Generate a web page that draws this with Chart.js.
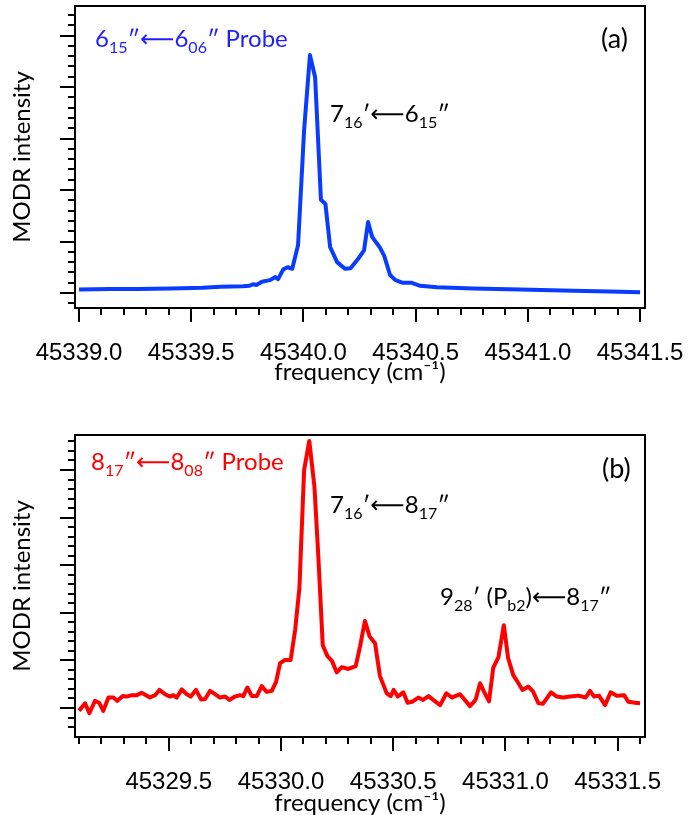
<!DOCTYPE html>
<html>
<head>
<meta charset="utf-8">
<script src="https://cdn.jsdelivr.net/npm/chart.js@4.4.1/dist/chart.umd.min.js"></script>
<style>
  html, body { margin: 0; padding: 0; background: #fff; }
  #wrap { position: relative; width: 688px; height: 815px; }
  #panel-a { position: absolute; left: 0; top: 0; }
  #panel-b { position: absolute; left: 0; top: 400px; }
</style>
</head>
<body>
<div id="wrap">
  <canvas id="panel-a" width="688" height="400"></canvas>
  <canvas id="panel-b" width="688" height="415"></canvas>
</div>
<script>
// Panel (a): 6_15" <- 6_06" probe
const freqA = [
  45339.00, 45339.14, 45339.26, 45339.41, 45339.55, 45339.63, 45339.73, 45339.76,
  45339.775, 45339.79, 45339.815, 45339.85, 45339.875, 45339.887, 45339.91, 45339.93,
  45339.95, 45339.976, 45340.003, 45340.029, 45340.052, 45340.078, 45340.098, 45340.119,
  45340.15, 45340.185, 45340.21, 45340.243, 45340.27, 45340.288, 45340.306, 45340.341,
  45340.36, 45340.386, 45340.41, 45340.44, 45340.48, 45340.52, 45340.595, 45340.756,
  45340.965, 45341.20, 45341.366, 45341.50
];
const intA = [
  0.07, 0.08, 0.08, 0.09, 0.10, 0.12, 0.13, 0.14,
  0.17, 0.155, 0.22, 0.25, 0.31, 0.27, 0.46, 0.50,
  0.47, 0.93, 3.17, 4.62, 4.19, 1.81, 1.73, 0.89,
  0.60, 0.47, 0.48, 0.66, 0.83, 1.38, 1.09, 0.88,
  0.72, 0.35, 0.25, 0.20, 0.20, 0.14, 0.11, 0.09,
  0.07, 0.045, 0.03, 0.014
];
const xTicksA = [45339.0, 45339.5, 45340.0, 45340.5, 45341.0, 45341.5];

// Panel (b): 8_17" <- 8_08" probe
const freqB = [
  45329.100, 45329.127, 45329.146, 45329.171, 45329.190, 45329.208, 45329.231, 45329.253,
  45329.271, 45329.295, 45329.313, 45329.335, 45329.357, 45329.379, 45329.416, 45329.439,
  45329.458, 45329.483, 45329.506, 45329.520, 45329.535, 45329.558, 45329.580, 45329.598,
  45329.621, 45329.644, 45329.662, 45329.684, 45329.706, 45329.728, 45329.751, 45329.770,
  45329.795, 45329.817, 45329.832, 45329.850, 45329.870, 45329.892, 45329.914, 45329.936,
  45329.959, 45329.978, 45329.996, 45330.018, 45330.043, 45330.063, 45330.082, 45330.103,
  45330.126, 45330.149, 45330.166, 45330.186, 45330.207, 45330.227, 45330.248, 45330.271,
  45330.300, 45330.333, 45330.352, 45330.374, 45330.395, 45330.419, 45330.441, 45330.471,
  45330.489, 45330.502, 45330.520, 45330.545, 45330.564, 45330.584, 45330.612, 45330.633,
  45330.657, 45330.681, 45330.709, 45330.737, 45330.761, 45330.798, 45330.842, 45330.867,
  45330.887, 45330.905, 45330.927, 45330.946, 45330.969, 45330.993, 45331.012, 45331.035,
  45331.058, 45331.076, 45331.102, 45331.123, 45331.147, 45331.168, 45331.203, 45331.229,
  45331.258, 45331.288, 45331.325, 45331.358, 45331.377, 45331.395, 45331.417, 45331.444,
  45331.469, 45331.496, 45331.529, 45331.548, 45331.578, 45331.600
];
const intB = [
  -0.06, 0.10, -0.11, 0.15, 0.11, -0.06, 0.22, 0.22,
  0.15, 0.25, 0.24, 0.27, 0.27, 0.32, 0.22, 0.27,
  0.38, 0.29, 0.24, 0.27, 0.22, 0.39, 0.29, 0.24,
  0.38, 0.18, 0.19, 0.36, 0.29, 0.22, 0.24, 0.17,
  0.24, 0.27, 0.25, 0.43, 0.25, 0.25, 0.46, 0.34,
  0.36, 0.55, 0.94, 1.01, 1.01, 1.64, 2.52, 5.00,
  5.61, 4.65, 3.21, 1.32, 1.09, 0.99, 0.75, 0.86,
  0.82, 0.88, 1.29, 1.83, 1.50, 1.36, 0.67, 0.31,
  0.25, 0.38, 0.24, 0.33, 0.11, 0.13, 0.22, 0.17,
  0.25, 0.16, 0.06, 0.31, 0.22, 0.29, 0.04, 0.17,
  0.52, 0.34, 0.14, 0.85, 1.07, 1.74, 1.05, 0.69,
  0.52, 0.38, 0.45, 0.35, 0.10, 0.09, 0.33, 0.24,
  0.22, 0.24, 0.26, 0.22, 0.36, 0.24, 0.26, 0.06,
  0.33, 0.26, 0.27, 0.13, 0.11, 0.10
];
const xTicksB = [45329.5, 45330.0, 45330.5, 45331.0, 45331.5];

const yMajor = [0, 1, 2, 3, 4, 5];

const tickFont = { family: '"Liberation Sans", Arial, sans-serif', size: 24 };
const labelFont = { family: 'Lato, "DejaVu Sans", sans-serif', size: 24, lineHeight: 1 };
const richFamily = 'Lato, "DejaVu Sans", sans-serif';

function steps(from, to, step) {
  const out = [];
  for (let i = 0; from + i * step <= to + 1e-9; i++) out.push(from + i * step);
  return out;
}

// Draw text made of normal and subscript pieces
function drawRich(ctx, parts, x, y, color, size) {
  ctx.fillStyle = color;
  ctx.textAlign = 'left';
  ctx.textBaseline = 'alphabetic';
  parts.forEach(p => {
    const s = p.sub ? Math.round(size * 0.66) : size;
    ctx.font = `${s}px ${richFamily}`;
    ctx.fillText(p.t, x, y + (p.sub ? size * 0.24 : 0));
    x += ctx.measureText(p.t).width;
  });
}

// Frame, major/minor tick marks and text notes
const framePlugin = {
  id: 'frame',
  afterDraw(chart, args, opts) {
    const { ctx, chartArea: a, scales: { x, y } } = chart;
    ctx.save();
    ctx.strokeStyle = '#000';
    ctx.lineWidth = 2;
    ctx.strokeRect(a.left, a.top, a.right - a.left, a.bottom - a.top);
    ctx.beginPath();
    opts.xMinor.forEach(v => {
      const px = Math.round(x.getPixelForValue(v));
      const major = opts.xMajor.some(m => Math.abs(m - v) < 1e-6);
      ctx.moveTo(px, a.bottom);
      ctx.lineTo(px, a.bottom + (major ? 14 : 7));
    });
    opts.yMinor.forEach(v => {
      const py = Math.round(y.getPixelForValue(v));
      const major = yMajor.some(m => Math.abs(m - v) < 1e-6);
      ctx.moveTo(a.left, py);
      ctx.lineTo(a.left - (major ? 15 : 7), py);
    });
    ctx.stroke();
    opts.notes.forEach(n => drawRich(ctx, n.parts, n.x, n.y, n.color, n.size || 24));
    ctx.restore();
  }
};

function makeChart(id, freq, inten, color, o) {
  const ctx = document.getElementById(id).getContext('2d');
  return new Chart(ctx, {
    type: 'line',
    data: {
      datasets: [{
        data: freq.map((f, i) => ({ x: f, y: inten[i] })),
        borderColor: color,
        borderWidth: 4,
        pointRadius: 0,
        tension: 0,
        borderJoinStyle: 'round',
        fill: false,
      }],
    },
    options: {
      responsive: false,
      animation: false,
      events: [],
      layout: { padding: o.padding },
      plugins: {
        legend: { display: false },
        tooltip: { enabled: false },
        frame: { xMajor: o.xMajor, xMinor: o.xMinor, yMinor: o.yMinor, notes: o.notes },
      },
      scales: {
        x: {
          type: 'linear',
          min: o.xMin,
          max: o.xMax,
          grid: { display: false },
          border: { display: false },
          afterBuildTicks: s => { s.ticks = o.xMajor.map(v => ({ value: v })); },
          ticks: {
            padding: 23,
            color: '#000',
            font: tickFont,
            maxRotation: 0,
            autoSkip: false,
            callback: v => Number(v).toFixed(1),
          },
          title: { display: true, text: 'frequency (cm\u207B\u00B9)', color: '#000', font: labelFont, padding: 0 },
          // fixed axis height; edge labels must not shrink the plot box
          afterFit: s => { s.height = o.xHeight; s.paddingLeft = 0; s.paddingRight = 0; },
        },
        y: {
          min: o.yMin,
          max: o.yMax,
          grid: { display: false },
          border: { display: false },
          ticks: { display: false },
          title: { display: true, text: 'MODR intensity', color: '#000', font: labelFont, padding: { top: 10, bottom: 0 } },
          afterFit: s => { s.width = 75; },
        },
      },
    },
    plugins: [framePlugin],
  });
}

const blueText = '#1e1eff';
const redText = '#ff0000';

makeChart('panel-a', freqA, intA, '#0a3cff', {
  padding: { top: 6, right: 43, bottom: 15.5, left: 0 },
  xMin: 45338.982, xMax: 45341.522, xHeight: 76.5,
  yMin: -0.291, yMax: 5.573,
  xMajor: xTicksA,
  xMinor: steps(45339.0, 45341.5, 0.1),
  yMinor: steps(-0.2, 5.4, 0.2),
  notes: [
    { x: 95, y: 47, color: blueText, parts: [{ t: '6' }, { t: '15', sub: true }, { t: '\u2033\u27F56' }, { t: '06', sub: true }, { t: '\u2033 Probe' }] },
    { x: 601, y: 48, size: 27, color: '#000', parts: [{ t: '(a)' }] },
    { x: 330, y: 122, color: '#000', parts: [{ t: '7' }, { t: '16', sub: true }, { t: '\u2032\u27F56' }, { t: '15', sub: true }, { t: '\u2033' }] },
  ],
});

makeChart('panel-b', freqB, intB, '#ff0000', {
  padding: { top: 35, right: 43, bottom: 0, left: 0 },
  xMin: 45329.082, xMax: 45331.622, xHeight: 78,
  yMin: -0.609, yMax: 5.735,
  xMajor: xTicksB,
  xMinor: steps(45329.1, 45331.6, 0.1),
  yMinor: steps(-0.4, 5.6, 0.2),
  notes: [
    { x: 91, y: 70, color: redText, parts: [{ t: '8' }, { t: '17', sub: true }, { t: '\u2033\u27F58' }, { t: '08', sub: true }, { t: '\u2033 Probe' }] },
    { x: 602, y: 78, size: 27, color: '#000', parts: [{ t: '(b)' }] },
    { x: 330, y: 113, color: '#000', parts: [{ t: '7' }, { t: '16', sub: true }, { t: '\u2032\u27F58' }, { t: '17', sub: true }, { t: '\u2033' }] },
    { x: 440, y: 205, color: '#000', parts: [{ t: '9' }, { t: '28', sub: true }, { t: '\u2032 (P' }, { t: 'b2', sub: true }, { t: ')\u27F58' }, { t: '17', sub: true }, { t: '\u2033' }] },
  ],
});
</script>
</body>
</html>
